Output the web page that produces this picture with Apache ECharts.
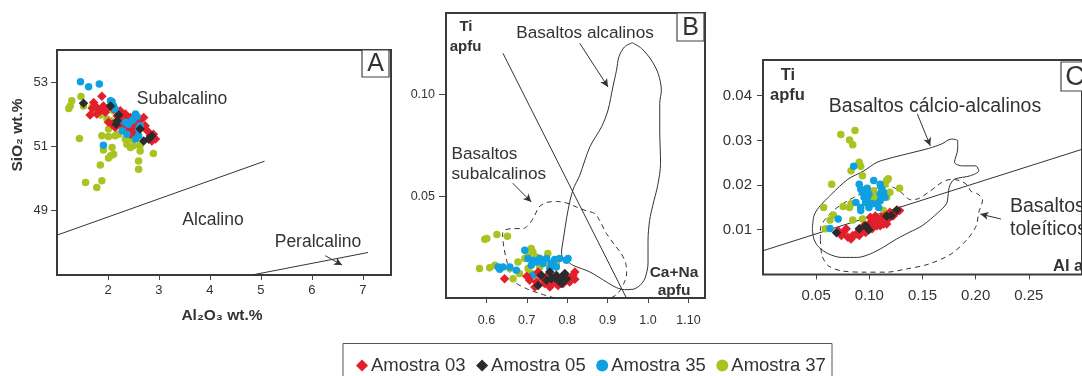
<!DOCTYPE html>
<html>
<head>
<meta charset="utf-8">
<script src="https://cdn.jsdelivr.net/npm/echarts@6/dist/echarts.min.js"></script>
<style>
html,body{margin:0;padding:0;background:#fff}
#chart{width:1082px;height:376px}
</style>
</head>
<body>
<div id="chart"></div>
<script>
const FONT = '"Liberation Sans", Arial, Helvetica, sans-serif';

// Sample names (legend) and their colours / symbols
const sampleNames = ['Amostra 03', 'Amostra 05', 'Amostra 35', 'Amostra 37'];
const sampleColors = ['#e21f2b', '#2b2b2b', '#0ea0e0', '#a9c421'];
const sampleSymbols = ['diamond', 'diamond', 'circle', 'circle'];

// ---------- Panel A: Al2O3 (wt.%) vs SiO2 (wt.%) ----------
const aTicksX = [2, 3, 4, 5, 6, 7];
const aTicksY = [49, 51, 53];
const a03 = [[1.88,52.56],[1.72,52.37],[1.69,52.19],[1.78,52.21],[1.85,52.11],[1.91,52.26],[1.95,52.06],[2.01,52.21],[2.11,52.16],[2.18,51.95],[2.24,52.11],[2.28,51.90],[2.34,52.01],[2.37,51.80],[2.28,51.64],[2.40,51.54],[2.47,51.59],[2.50,51.44],[2.57,51.69],[2.63,51.80],[2.70,51.90],[2.73,51.64],[2.77,51.49],[2.83,51.33],[2.89,51.38],[2.93,51.23],[2.86,51.17],[2.14,51.59],[2.08,51.69],[2.34,51.69],[2.44,51.38],[2.01,51.75],[2.44,51.90],[2.54,51.85],[2.57,51.54],[2.80,51.23],[1.65,51.98],[1.78,52.01],[2.31,51.59],[2.20,51.79],[2.40,51.73]];
const a05 = [[1.52,52.34],[2.05,52.26],[2.21,51.98],[2.18,51.80],[2.16,51.69],[2.63,51.54],[2.70,51.17],[2.80,51.23],[2.86,51.33]];
const a35 = [[1.46,53.01],[1.62,52.86],[1.83,52.94],[2.05,52.42],[2.08,52.39],[2.11,52.26],[2.14,52.16],[2.54,52.01],[2.57,51.93],[2.50,51.85],[2.37,51.38],[2.60,51.54],[2.63,51.64],[2.60,51.33],[1.91,51.04],[2.47,51.80],[2.28,51.49],[2.18,51.75],[2.40,51.69],[2.34,51.75],[2.54,51.23]];
const a37 = [[1.29,52.42],[1.26,52.26],[1.23,52.18],[1.47,52.55],[1.52,52.26],[1.44,51.25],[1.88,51.33],[1.91,50.89],[2.05,50.71],[2.01,50.64],[2.11,50.76],[1.85,50.42],[1.56,49.88],[1.78,49.72],[1.88,49.93],[2.37,51.07],[2.44,50.97],[2.50,51.02],[2.63,51.04],[2.63,50.86],[2.60,50.55],[2.60,50.29],[2.89,50.78],[2.01,51.54],[2.05,51.80],[1.69,52.23],[1.75,52.11],[1.85,51.98],[1.98,51.85],[2.11,52.11],[2.34,51.23],[2.47,51.23],[2.21,51.38],[2.01,51.31],[2.08,50.97],[2.14,51.33],[2.21,51.75],[2.57,51.38]];
// field boundaries
const aSubalkalineLine = [[1.0,48.24],[5.07,50.54]];
const aPeralkalineLine = [[4.82,47.0],[7.1,47.70]];
const aArrowPer = [[6.26,47.60],[6.59,47.31]];

// ---------- Panel B: Ca+Na (apfu) vs Ti (apfu) ----------
const bTicksX = [0.6, 0.7, 0.8, 0.9, 1.0, 1.1];
const bTickLabelsX = ['0.6', '0.7', '0.8', '0.9', '1.0', '1.10'];
const bTicksY = [0.05, 0.10];
const b03 = [[0.645,0.0095],[0.707,0.0087],[0.724,0.0079],[0.732,0.0112],[0.740,0.0095],[0.752,0.0112],[0.744,0.0071],[0.765,0.0079],[0.773,0.0095],[0.781,0.0071],[0.798,0.0087],[0.806,0.0095],[0.814,0.0112],[0.819,0.0128],[0.794,0.0112],[0.806,0.0079],[0.757,0.0054],[0.777,0.0062],[0.720,0.0054],[0.728,0.0128],[0.790,0.0071],[0.700,0.0107],[0.761,0.0102],[0.819,0.0092]];
const b05 = [[0.728,0.0062],[0.736,0.0112],[0.757,0.0128],[0.773,0.0112],[0.777,0.0087],[0.786,0.0103],[0.794,0.0120],[0.798,0.0095],[0.786,0.0071],[0.761,0.0095],[0.749,0.0087]];
const b35 = [[0.695,0.0235],[0.641,0.0152],[0.633,0.0141],[0.658,0.0152],[0.674,0.0136],[0.715,0.0185],[0.724,0.0177],[0.749,0.0194],[0.769,0.0189],[0.781,0.0194],[0.798,0.0185],[0.802,0.0194],[0.732,0.0194],[0.740,0.0169],[0.761,0.0169],[0.757,0.0145],[0.711,0.0161],[0.703,0.0194],[0.715,0.0112],[0.629,0.0152],[0.773,0.0152]];
const b37 = [[0.596,0.0289],[0.601,0.0292],[0.626,0.0312],[0.652,0.0303],[0.583,0.0145],[0.608,0.0149],[0.621,0.0161],[0.711,0.0243],[0.715,0.0226],[0.703,0.0210],[0.695,0.0194],[0.724,0.0202],[0.752,0.0218],[0.678,0.0177],[0.666,0.0095],[0.682,0.0120],[0.703,0.0145],[0.732,0.0152],[0.757,0.0161],[0.773,0.0169],[0.658,0.0145],[0.736,0.0177],[0.711,0.0120]];
const bAlkalineField = [[0.961,0.1254],[0.984,0.1226],[1.008,0.1169],[1.025,0.1103],[1.033,0.1021],[1.029,0.0956],[1.029,0.0824],[1.031,0.0661],[1.024,0.0554],[1.012,0.0456],[1.004,0.0382],[1.000,0.0284],[1.000,0.0169],[0.992,0.0095],[0.980,0.0062],[0.963,0.0043],[0.942,0.0041],[0.922,0.0051],[0.897,0.0079],[0.856,0.0128],[0.814,0.0161],[0.798,0.0185],[0.788,0.0202],[0.786,0.0226],[0.790,0.0284],[0.802,0.0431],[0.814,0.0530],[0.831,0.0603],[0.856,0.0742],[0.885,0.0841],[0.901,0.0923],[0.913,0.1037],[0.922,0.1119],[0.928,0.1185],[0.942,0.1234],[0.961,0.1254]];
const bSubalkalineField = [[0.769,0],[0.732,0.0022],[0.699,0.0046],[0.670,0.0079],[0.659,0.0120],[0.650,0.0185],[0.643,0.0251],[0.640,0.0317],[0.645,0.0333],[0.666,0.0341],[0.691,0.0341],[0.707,0.0366],[0.720,0.0407],[0.730,0.0447],[0.749,0.0469],[0.773,0.0474],[0.798,0.0467],[0.823,0.0447],[0.848,0.0428],[0.868,0.0415],[0.880,0.0382],[0.897,0.0317],[0.918,0.0259],[0.934,0.0218],[0.945,0.0169],[0.947,0.0120],[0.940,0.0071],[0.926,0.0025],[0.909,0]];
const bDivideLine = [[0.641,0.1202],[0.9465,0]];
const bArrowAlk = [[0.831,0.1251],[0.901,0.1037]];
const bArrowSub = [[0.665,0.0564],[0.711,0.0472]];

// ---------- Panel C: Al (apfu) vs Ti (apfu) ----------
const cTicksX = [0.05, 0.10, 0.15, 0.20, 0.25];
const cTicksY = [0.01, 0.02, 0.03, 0.04];
const c03 = [[0.0707,0.0098],[0.0753,0.0094],[0.0798,0.0083],[0.0844,0.0087],[0.0874,0.0090],[0.0919,0.0098],[0.0950,0.0109],[0.0996,0.0113],[0.1026,0.0120],[0.1056,0.0117],[0.1087,0.0124],[0.1117,0.0128],[0.1147,0.0131],[0.1178,0.0124],[0.1224,0.0131],[0.1254,0.0139],[0.1284,0.0143],[0.1072,0.0109],[0.1133,0.0113],[0.1026,0.0102],[0.0965,0.0094],[0.0905,0.0087],[0.0783,0.0102],[0.1010,0.0128],[0.1102,0.0109],[0.1163,0.0113],[0.1193,0.0139],[0.0737,0.0087],[0.0828,0.0079],[0.0935,0.0105],[0.1056,0.0131]];
const c05 = [[0.0691,0.0093],[0.0905,0.0102],[0.0965,0.0109],[0.0996,0.0100],[0.1163,0.0130],[0.1208,0.0132],[0.1258,0.0144]];
const c35 = [[0.0853,0.0242],[0.0905,0.0202],[0.0919,0.0191],[0.0935,0.0184],[0.0980,0.0193],[0.1041,0.0210],[0.1102,0.0202],[0.1117,0.0191],[0.1102,0.0180],[0.1133,0.0184],[0.1147,0.0173],[0.1102,0.0165],[0.0950,0.0173],[0.0965,0.0161],[0.0919,0.0150],[0.0919,0.0143],[0.0874,0.0161],[0.0996,0.0150],[0.1026,0.0158],[0.1072,0.0158],[0.1087,0.0150],[0.0980,0.0169],[0.0707,0.0124],[0.0631,0.0103],[0.0996,0.0180]];
const c37 = [[0.0732,0.0313],[0.0865,0.0322],[0.0814,0.0301],[0.0844,0.0290],[0.0905,0.0251],[0.0919,0.0242],[0.0828,0.0232],[0.0935,0.0221],[0.0646,0.0202],[0.1163,0.0210],[0.1178,0.0214],[0.1147,0.0202],[0.1284,0.0193],[0.1193,0.0184],[0.1041,0.0187],[0.1041,0.0180],[0.1026,0.0169],[0.1056,0.0176],[0.1163,0.0173],[0.0570,0.0150],[0.0753,0.0152],[0.0814,0.0150],[0.0996,0.0161],[0.0828,0.0158],[0.0661,0.0133],[0.0631,0.0122],[0.0844,0.0122],[0.0935,0.0124],[0.1133,0.0143],[0.0586,0.0102],[0.1087,0.0167]];
const cCalcAlkField = [[0.0464,0.0102],[0.0479,0.0131],[0.0525,0.0150],[0.0646,0.0180],[0.0798,0.0213],[0.0950,0.0232],[0.1072,0.0251],[0.1224,0.0262],[0.1375,0.0271],[0.1557,0.0282],[0.1680,0.0292],[0.1771,0.0303],[0.1831,0.0299],[0.1831,0.0281],[0.1801,0.0251],[0.1876,0.0243],[0.1999,0.0243],[0.2029,0.0232],[0.1953,0.0221],[0.1801,0.0213],[0.1755,0.0198],[0.1740,0.0176],[0.1725,0.0158],[0.1649,0.0139],[0.1497,0.0109],[0.1375,0.0094],[0.1254,0.0079],[0.1133,0.0061],[0.1010,0.0046],[0.0889,0.0038],[0.0737,0.0038],[0.0616,0.0046],[0.0525,0.0061],[0.0479,0.0079],[0.0464,0.0102]];
const cTholeiiticField = [[0.0540,0.0079],[0.0555,0.0042],[0.0616,0.0019],[0.0737,0.0008],[0.0950,0.0005],[0.1163,0.0005],[0.1345,0.0012],[0.1557,0.0023],[0.1771,0.0046],[0.1922,0.0079],[0.2006,0.0109],[0.2029,0.0139],[0.2065,0.0167],[0.2020,0.0180],[0.1956,0.0186],[0.1922,0.0200],[0.1846,0.0210],[0.1771,0.0213],[0.1682,0.0206],[0.1619,0.0195],[0.1557,0.0184],[0.1466,0.0170],[0.1391,0.0167],[0.1345,0.0173],[0.1284,0.0187],[0.1224,0.0195],[0.1163,0.0198],[0.1041,0.0191],[0.0919,0.0180],[0.0798,0.0165],[0.0677,0.0146],[0.0586,0.0124],[0.0540,0.0102],[0.0540,0.0079]];
const cDivideLine = [[0,0.0053],[0.30,0.0280]];
const cArrowCalc = [[0.1452,0.0359],[0.1573,0.0288]];
const cArrowThol = [[0.2238,0.0124],[0.2044,0.0135]];

// ---------- helpers ----------
const INK = '#333';

function xAxisCfg(gridIndex, min, max, ticks, fmt, fontSize, margin) {
  return {
    type: 'value', gridIndex, min, max,
    axisLine: { show: false }, splitLine: { show: false },
    axisTick: { show: true, inside: false, length: 5, customValues: ticks, lineStyle: { color: '#444', width: 1 } },
    axisLabel: { customValues: ticks, formatter: fmt, color: INK, fontSize, fontFamily: FONT, margin }
  };
}
function yAxisCfg(gridIndex, min, max, ticks, fmt, fontSize, margin, tickLen) {
  return {
    type: 'value', gridIndex, min, max,
    axisLine: { show: false }, splitLine: { show: false },
    axisTick: { show: true, inside: false, length: tickLen, customValues: ticks, lineStyle: { color: '#444', width: 1 } },
    axisLabel: { customValues: ticks, formatter: fmt, color: INK, fontSize, fontFamily: FONT, margin }
  };
}
function scatter(idx, name, data, size) {
  const i = sampleNames.indexOf(name);
  return {
    type: 'scatter', name, data, xAxisIndex: idx, yAxisIndex: idx,
    symbol: sampleSymbols[i], symbolSize: sampleSymbols[i] === 'diamond' ? size + 2 : size,
    itemStyle: { color: sampleColors[i], opacity: 1 }, silent: true
  };
}
function curve(idx, data, dashed, smooth) {
  return {
    type: 'line', data, xAxisIndex: idx, yAxisIndex: idx, showSymbol: false, silent: true,
    smooth: smooth || 0, z: 1,
    lineStyle: { color: INK, width: 1, type: dashed ? [5, 4] : 'solid' }
  };
}
function arrows(idx, list) {
  return {
    type: 'line', data: [], xAxisIndex: idx, yAxisIndex: idx, silent: true,
    markLine: {
      silent: true, animation: false, symbol: ['none', 'arrow'], symbolSize: [6, 8],
      label: { show: false },
      lineStyle: { color: INK, width: 1, type: 'solid' },
      data: list.map(a => [{ coord: a[0] }, { coord: a[1] }])
    }
  };
}
function txt(x, y, text, size, opts) {
  opts = opts || {};
  return {
    type: 'text', x, y, rotation: opts.rotation || 0, z: 10,
    style: {
      text, fill: INK, fontFamily: FONT, fontSize: size, fontWeight: opts.bold ? 'bold' : 'normal',
      align: opts.align || 'center', textAlign: opts.align || 'center',
      verticalAlign: 'middle', textVerticalAlign: 'middle'
    }
  };
}
function letterBox(x, y, w, h, letter, size) {
  return [
    { type: 'rect', shape: { x, y, width: w, height: h }, z: 9, style: { fill: '#fff', stroke: '#444', lineWidth: 1.2 } },
    txt(x + w / 2, y + h / 2 + 1, letter, size)
  ];
}

const fmtB = v => {
  let k = 0;
  bTicksX.forEach((t, i) => { if (Math.abs(t - v) < Math.abs(bTicksX[k] - v)) k = i; });
  return bTickLabelsX[k];
};
const fix2 = v => v.toFixed(2);

const frame = { show: true, borderColor: '#3a3a3a', borderWidth: 2, backgroundColor: 'transparent' };

const option = {
  animation: false,
  backgroundColor: '#fff',
  grid: [
    Object.assign({ left: 57, top: 50, width: 334, height: 225 }, frame),
    Object.assign({ left: 446, top: 13, width: 259, height: 285 }, frame),
    Object.assign({ left: 763, top: 60, width: 329, height: 214.4 }, frame)
  ],
  xAxis: [
    xAxisCfg(0, 1, 7.55, aTicksX, v => String(Math.round(v)), 13, 9),
    xAxisCfg(1, 0.5, 1.141, bTicksX, fmtB, 12.5, 16),
    xAxisCfg(2, 0, 0.30, cTicksX, fix2, 15, 14)
  ],
  yAxis: [
    yAxisCfg(0, 47, 54, aTicksY, v => String(Math.round(v)), 13, 9, 6),
    yAxisCfg(1, 0, 0.14, bTicksY, fix2, 12.5, 11, 7),
    yAxisCfg(2, 0, 0.048, cTicksY, fix2, 15, 11, 6)
  ],
  legend: {
    data: sampleNames, left: 356, top: 356, padding: 0, itemGap: 10.5,
    itemWidth: 12, itemHeight: 12, selectedMode: false,
    textStyle: { color: INK, fontSize: 18.5, fontFamily: FONT, padding: [0, 0, 0, -2] }
  },
  series: [
    curve(0, aSubalkalineLine, false), curve(0, aPeralkalineLine, false), arrows(0, [aArrowPer]),
    scatter(0, 'Amostra 37', a37, 7.5), scatter(0, 'Amostra 03', a03, 7.5), scatter(0, 'Amostra 35', a35, 7.5), scatter(0, 'Amostra 05', a05, 7.5),

    curve(1, bAlkalineField, false, 0.3), curve(1, bSubalkalineField, true, 0.3), curve(1, bDivideLine, false),
    arrows(1, [bArrowAlk, bArrowSub]),
    scatter(1, 'Amostra 37', b37, 7.5), scatter(1, 'Amostra 35', b35, 7.5), scatter(1, 'Amostra 03', b03, 7.5), scatter(1, 'Amostra 05', b05, 7.5),

    curve(2, cCalcAlkField, false, 0.3), curve(2, cTholeiiticField, true, 0.3), curve(2, cDivideLine, false),
    arrows(2, [cArrowCalc, cArrowThol]),
    scatter(2, 'Amostra 37', c37, 7.5), scatter(2, 'Amostra 35', c35, 7.5), scatter(2, 'Amostra 03', c03, 7.5), scatter(2, 'Amostra 05', c05, 7.5)
  ],
  graphic: [
    // panel A texts
    txt(182, 99, 'Subalcalino', 17.5),
    txt(213, 220, 'Alcalino', 17.5),
    txt(318, 242, 'Peralcalino', 17.5),
    txt(18, 135, 'SiO₂ wt.%', 15.5, { bold: true, rotation: Math.PI / 2 }),
    txt(222, 316, 'Al₂O₃ wt.%', 15.5, { bold: true }),
    ...letterBox(362, 50, 27, 27, 'A', 25),
    // panel B texts
    txt(585, 33, 'Basaltos alcalinos', 17.2),
    txt(451.5, 154, 'Basaltos', 17.2, { align: 'left' }),
    txt(451.5, 174, 'subalcalinos', 17.2, { align: 'left' }),
    txt(466, 27, 'Ti', 15, { bold: true }),
    txt(465.5, 46.5, 'apfu', 15, { bold: true }),
    txt(674, 273, 'Ca+Na', 15.5, { bold: true }),
    txt(674, 290.5, 'apfu', 15.5, { bold: true }),
    ...letterBox(677, 13, 27, 28, 'B', 25),
    // panel C texts
    txt(935, 107, 'Basaltos cálcio-alcalinos', 19.5),
    txt(1010, 207, 'Basaltos', 19.5, { align: 'left' }),
    txt(1010, 230, 'toleíticos', 19.5, { align: 'left' }),
    txt(788, 75.5, 'Ti', 16.5, { bold: true }),
    txt(787.5, 95, 'apfu', 16.5, { bold: true }),
    txt(1053, 266.5, 'Al apfu', 16.5, { bold: true, align: 'left' }),
    ...letterBox(1061, 62, 28, 29, 'C', 27),
    // legend frame
    { type: 'rect', shape: { x: 343, y: 343.5, width: 489, height: 40 }, z: 0,
      style: { fill: 'none', stroke: '#555', lineWidth: 1 } }
  ]
};

const chart = echarts.init(document.getElementById('chart'), null, { renderer: 'canvas' });
chart.setOption(option);
</script>
</body>
</html>
